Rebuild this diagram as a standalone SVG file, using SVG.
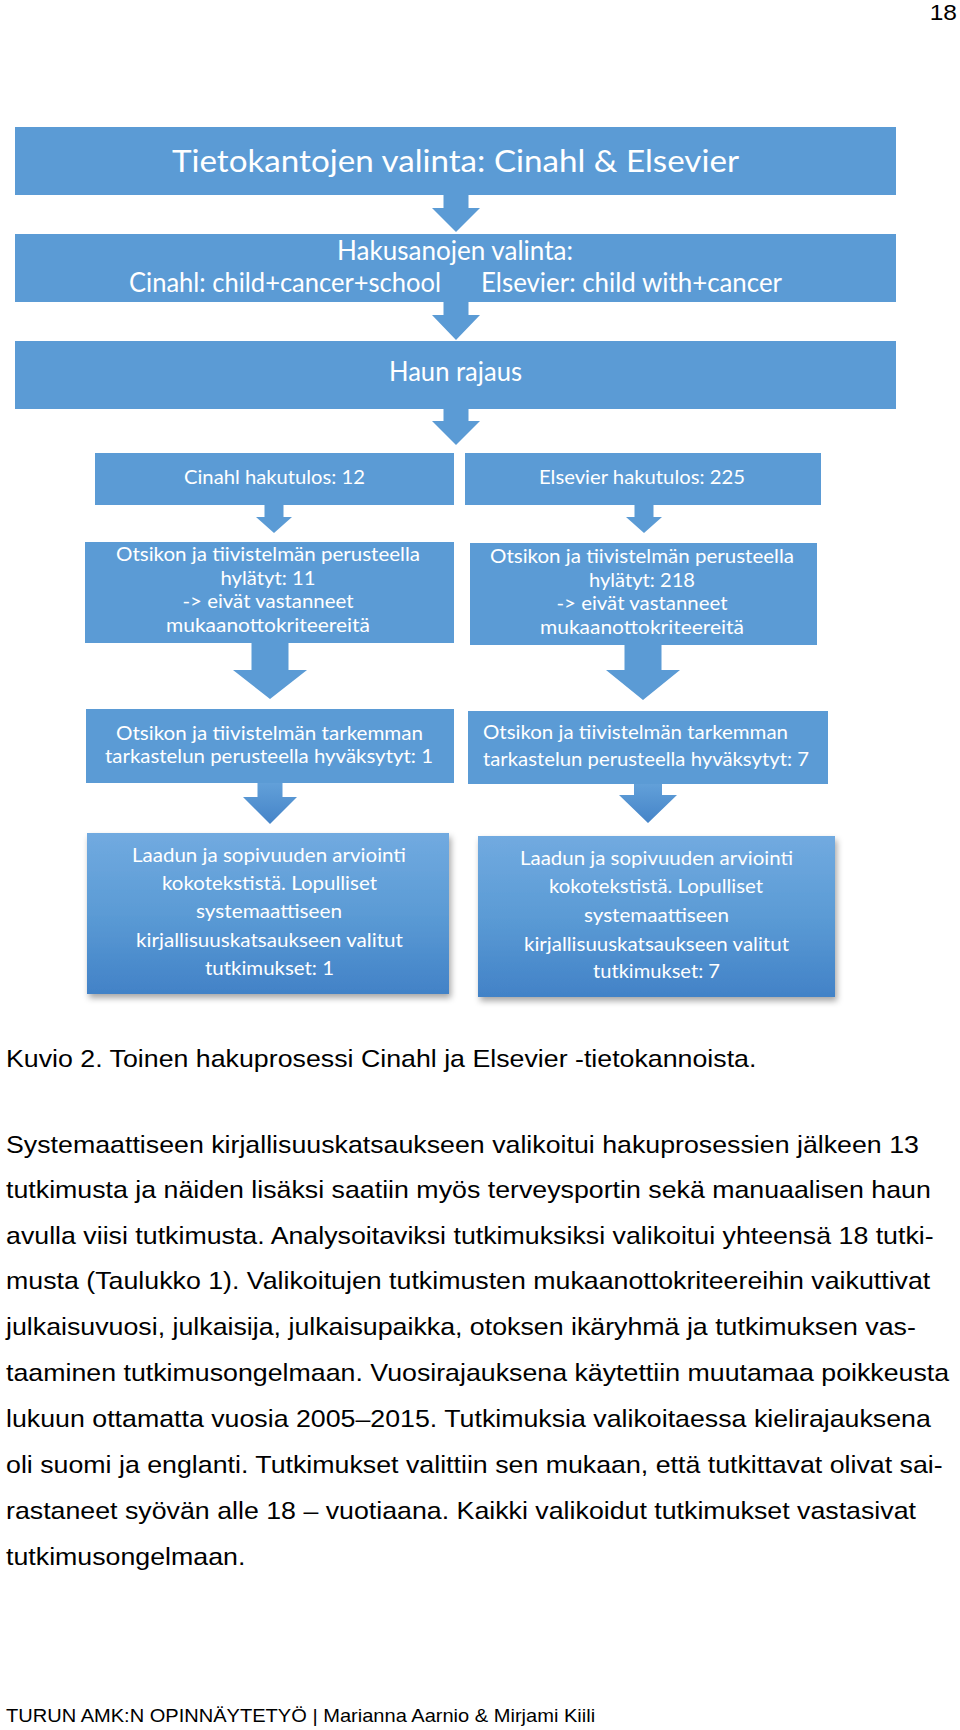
<svg xmlns="http://www.w3.org/2000/svg" width="960" height="1730" viewBox="0 0 960 1730">
<style>
.box{fill:#5B9BD5}
.gbox{fill:url(#gBox)}
.arr{fill:#5B9BD5}
.garr{fill:url(#gArr)}
.bt{font-family:Lato,"Open Sans","Liberation Sans",sans-serif;fill:#FFFFFF}
.t30{font-size:30px}
.t26{font-size:26px}
.t19{font-size:19px}
.body{font-family:"Liberation Sans",Arial,sans-serif;font-size:24px;fill:#000000}
.foot{font-family:"Liberation Sans",Arial,sans-serif;font-size:18px;fill:#000000}
.pg{font-family:"Liberation Sans",Arial,sans-serif;font-size:22px;fill:#000000}
</style>
<defs>
<linearGradient id="gBox" x1="0" y1="0" x2="0" y2="1">
<stop offset="0" stop-color="#71AAE0"/>
<stop offset="0.5" stop-color="#5B9BD5"/>
<stop offset="1" stop-color="#4282C7"/>
</linearGradient>
<linearGradient id="gArr" x1="0" y1="0" x2="0" y2="1">
<stop offset="0" stop-color="#62A0D9"/>
<stop offset="1" stop-color="#4584C8"/>
</linearGradient>
<filter id="sh" x="-10%" y="-10%" width="125%" height="130%">
<feDropShadow dx="2" dy="4" stdDeviation="3" flood-color="#000000" flood-opacity="0.35"/>
</filter>
</defs>
<rect width="960" height="1730" fill="#FFFFFF"/>

<g id="connectors">
<polygon class="arr" points="443.5,195 468.5,195 468.5,208 480,208 456,232 432,208 443.5,208"/>
<polygon class="arr" points="443.5,302 468.5,302 468.5,315 480,315 456,340 432,315 443.5,315"/>
<polygon class="arr" points="443.5,409 468.5,409 468.5,421 480,421 456,445 432,421 443.5,421"/>
<polygon class="arr" points="264.5,505 283.5,505 283.5,517 292,517 274,533 256,517 264.5,517"/>
<polygon class="arr" points="634.5,505 653.5,505 653.5,517 662,517 644,533 626,517 634.5,517"/>
<polygon class="arr" points="251.5,643 288.5,643 288.5,670 307,670 270,699 233,670 251.5,670"/>
<polygon class="arr" points="624.5,645 661.5,645 661.5,670 680,670 643,700 606,670 624.5,670"/>
<polygon class="garr" points="257.5,783 282.5,783 282.5,797 297,797 270,824 243,797 257.5,797"/>
<polygon class="garr" points="634,784 662,784 662,795 677,795 648,823 619,795 634,795"/>
</g>

<g id="n-databases">
<rect class="box" x="15" y="127" width="881" height="68"/>
<text class="bt t30" x="455.5" y="172" text-anchor="middle" textLength="567" lengthAdjust="spacingAndGlyphs">Tietokantojen valinta: Cinahl &amp; Elsevier</text>
</g>

<g id="n-keywords">
<rect class="box" x="15" y="234" width="881" height="68"/>
<text class="bt t26" x="455" y="260" text-anchor="middle" textLength="236" lengthAdjust="spacingAndGlyphs">Hakusanojen valinta:</text>
<text class="bt t26" x="129" y="292" textLength="312" lengthAdjust="spacingAndGlyphs">Cinahl: child+cancer+school</text>
<text class="bt t26" x="481" y="292" textLength="301" lengthAdjust="spacingAndGlyphs">Elsevier: child with+cancer</text>
</g>

<g id="n-limit">
<rect class="box" x="15" y="341" width="881" height="68"/>
<text class="bt t26" x="455.5" y="381" text-anchor="middle" textLength="133" lengthAdjust="spacingAndGlyphs">Haun rajaus</text>
</g>

<g id="n-cinahl-result">
<rect class="box" x="95" y="453" width="359" height="52"/>
<text class="bt t19" x="184" y="484" textLength="181" lengthAdjust="spacingAndGlyphs">Cinahl hakutulos: 12</text>
</g>

<g id="n-elsevier-result">
<rect class="box" x="465" y="453" width="356" height="52"/>
<text class="bt t19" x="539" y="484" textLength="206" lengthAdjust="spacingAndGlyphs">Elsevier hakutulos: 225</text>
</g>

<g id="n-cinahl-rejected">
<rect class="box" x="85" y="542" width="369" height="101"/>
<text class="bt t19" x="268" y="561" text-anchor="middle" textLength="304" lengthAdjust="spacingAndGlyphs">Otsikon ja tiivistelmän perusteella</text>
<text class="bt t19" x="268" y="585" text-anchor="middle" textLength="95" lengthAdjust="spacingAndGlyphs">hylätyt: 11</text>
<text class="bt t19" x="268" y="608" text-anchor="middle" textLength="171" lengthAdjust="spacingAndGlyphs">-&gt; eivät vastanneet</text>
<text class="bt t19" x="268" y="632" text-anchor="middle" textLength="204" lengthAdjust="spacingAndGlyphs">mukaanottokriteereitä</text>
</g>

<g id="n-elsevier-rejected">
<rect class="box" x="470" y="543" width="347" height="102"/>
<text class="bt t19" x="642" y="563" text-anchor="middle" textLength="304" lengthAdjust="spacingAndGlyphs">Otsikon ja tiivistelmän perusteella</text>
<text class="bt t19" x="642" y="587" text-anchor="middle" textLength="106" lengthAdjust="spacingAndGlyphs">hylätyt: 218</text>
<text class="bt t19" x="642" y="610" text-anchor="middle" textLength="171" lengthAdjust="spacingAndGlyphs">-&gt; eivät vastanneet</text>
<text class="bt t19" x="642" y="634" text-anchor="middle" textLength="204" lengthAdjust="spacingAndGlyphs">mukaanottokriteereitä</text>
</g>

<g id="n-cinahl-accepted">
<rect class="box" x="86" y="709" width="368" height="74"/>
<text class="bt t19" x="269.5" y="740" text-anchor="middle" textLength="307" lengthAdjust="spacingAndGlyphs">Otsikon ja tiivistelmän tarkemman</text>
<text class="bt t19" x="269" y="763" text-anchor="middle" textLength="328" lengthAdjust="spacingAndGlyphs">tarkastelun perusteella hyväksytyt: 1</text>
</g>

<g id="n-elsevier-accepted">
<rect class="box" x="468" y="711" width="360" height="73"/>
<text class="bt t19" x="483" y="739" textLength="305" lengthAdjust="spacingAndGlyphs">Otsikon ja tiivistelmän tarkemman</text>
<text class="bt t19" x="483" y="766" textLength="326" lengthAdjust="spacingAndGlyphs">tarkastelun perusteella hyväksytyt: 7</text>
</g>

<g id="n-cinahl-final">
<rect class="gbox" x="87" y="833" width="362" height="161" filter="url(#sh)"/>
<text class="bt t19" x="269" y="862" text-anchor="middle" textLength="274" lengthAdjust="spacingAndGlyphs">Laadun ja sopivuuden arviointi</text>
<text class="bt t19" x="269.5" y="890" text-anchor="middle" textLength="215" lengthAdjust="spacingAndGlyphs">kokotekstistä. Lopulliset</text>
<text class="bt t19" x="269" y="918" text-anchor="middle" textLength="146" lengthAdjust="spacingAndGlyphs">systemaattiseen</text>
<text class="bt t19" x="269.5" y="947" text-anchor="middle" textLength="267" lengthAdjust="spacingAndGlyphs">kirjallisuuskatsaukseen valitut</text>
<text class="bt t19" x="269.5" y="975" text-anchor="middle" textLength="129" lengthAdjust="spacingAndGlyphs">tutkimukset: 1</text>
</g>

<g id="n-elsevier-final">
<rect class="gbox" x="478" y="836" width="357" height="161" filter="url(#sh)"/>
<text class="bt t19" x="656.5" y="865" text-anchor="middle" textLength="273" lengthAdjust="spacingAndGlyphs">Laadun ja sopivuuden arviointi</text>
<text class="bt t19" x="656" y="893" text-anchor="middle" textLength="214" lengthAdjust="spacingAndGlyphs">kokotekstistä. Lopulliset</text>
<text class="bt t19" x="656.5" y="922" text-anchor="middle" textLength="145" lengthAdjust="spacingAndGlyphs">systemaattiseen</text>
<text class="bt t19" x="656.5" y="951" text-anchor="middle" textLength="265" lengthAdjust="spacingAndGlyphs">kirjallisuuskatsaukseen valitut</text>
<text class="bt t19" x="656.5" y="978" text-anchor="middle" textLength="127" lengthAdjust="spacingAndGlyphs">tutkimukset: 7</text>
</g>

<g id="page-text" transform="scale(1.115 1)">
<text class="pg" x="858.3" y="20" text-anchor="end">18</text>
<text class="body" x="5.4" y="1067">Kuvio 2. Toinen hakuprosessi Cinahl ja Elsevier -tietokannoista.</text>
<text class="body" x="5.4" y="1153">Systemaattiseen kirjallisuuskatsaukseen valikoitui hakuprosessien jälkeen 13</text>
<text class="body" x="5.4" y="1198.5">tutkimusta ja näiden lisäksi saatiin myös terveysportin sekä manuaalisen haun</text>
<text class="body" x="5.4" y="1244">avulla viisi tutkimusta. Analysoitaviksi tutkimuksiksi valikoitui yhteensä 18 tutki-</text>
<text class="body" x="5.4" y="1289.5">musta (Taulukko 1). Valikoitujen tutkimusten mukaanottokriteereihin vaikuttivat</text>
<text class="body" x="5.4" y="1335">julkaisuvuosi, julkaisija, julkaisupaikka, otoksen ikäryhmä ja tutkimuksen vas-</text>
<text class="body" x="5.4" y="1381">taaminen tutkimusongelmaan. Vuosirajauksena käytettiin muutamaa poikkeusta</text>
<text class="body" x="5.4" y="1427">lukuun ottamatta vuosia 2005–2015. Tutkimuksia valikoitaessa kielirajauksena</text>
<text class="body" x="5.4" y="1473">oli suomi ja englanti. Tutkimukset valittiin sen mukaan, että tutkittavat olivat sai-</text>
<text class="body" x="5.4" y="1519">rastaneet syövän alle 18 – vuotiaana. Kaikki valikoidut tutkimukset vastasivat</text>
<text class="body" x="5.4" y="1565">tutkimusongelmaan.</text>
<text class="foot" x="5.4" y="1722">TURUN AMK:N OPINNÄYTETYÖ | Marianna Aarnio &amp; Mirjami Kiili</text>
</g>
</svg>
